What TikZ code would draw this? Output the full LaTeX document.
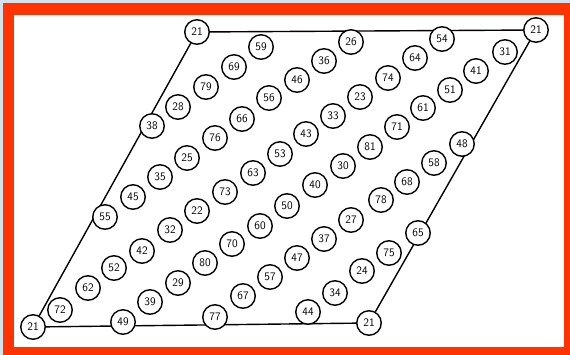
\documentclass[tikz,border=0pt]{standalone}
\usepackage{fontspec}
\pgfdeclarelayer{background}
\pgfsetlayers{background,main}
\definecolor{framered}{HTML}{FF3300}
\definecolor{framebg}{HTML}{CFE3EE}
\begin{document}
\begin{tikzpicture}[x=1pt,y=-1pt,
  num/.style={circle,draw=black,fill=white,line width=1.4pt,minimum size=24.5pt,inner sep=0pt,
    font=\sffamily\fontsize{11.5}{11.5}\selectfont},
  edge/.style={draw=black,line width=1.4pt}]
\useasboundingbox (0,0) rectangle (570,355);
\begin{pgfonlayer}{background}
\fill[framebg] (0,0) rectangle (570,355);
\fill[framered] (3,3) rectangle (570,355);
\fill[white] (14,15) rectangle (564,347);
\end{pgfonlayer}
% corners
\node[num] (tl) at (197,32) {21};
\node[num] (tr) at (536,30) {21};
\node[num] (bl) at (33,327) {21};
\node[num] (br) at (369,323) {21};
% row 31
\node[num] (n31) at (505,52) {31};
\node[num] (n41) at (476,71) {41};
\node[num] (n51) at (450,90) {51};
\node[num] (n61) at (423,108) {61};
\node[num] (n71) at (397,127) {71};
\node[num] (n81) at (370,147) {81};
\node[num] (n30) at (343,166) {30};
\node[num] (n40) at (315,185) {40};
\node[num] (n50) at (287,206) {50};
\node[num] (n60) at (260,226) {60};
\node[num] (n70) at (232,244) {70};
\node[num] (n80) at (205,263) {80};
\node[num] (n29) at (178,283) {29};
\node[num] (n39) at (150,302) {39};
\node[num] (n49) at (123,322) {49};
% row 54
\node[num] (n54) at (442,39) {54};
\node[num] (n64) at (415,58) {64};
\node[num] (n74) at (388,78) {74};
\node[num] (n23) at (360,97) {23};
\node[num] (n33) at (333,116) {33};
\node[num] (n43) at (306,134) {43};
\node[num] (n53) at (280,154) {53};
\node[num] (n63) at (253,173) {63};
\node[num] (n73) at (225,192) {73};
\node[num] (n22) at (197,211) {22};
\node[num] (n32) at (170,230) {32};
\node[num] (n42) at (142,251) {42};
\node[num] (n52) at (114,268) {52};
\node[num] (n62) at (88,288) {62};
\node[num] (n72) at (60,310) {72};
% row 48
\node[num] (n48) at (462,144) {48};
\node[num] (n58) at (434,163) {58};
\node[num] (n68) at (407,182) {68};
\node[num] (n78) at (381,200) {78};
\node[num] (n27) at (351,220) {27};
\node[num] (n37) at (324,239) {37};
\node[num] (n47) at (297,258) {47};
\node[num] (n57) at (270,277) {57};
\node[num] (n67) at (243,296) {67};
\node[num] (n77) at (215,317) {77};
% row 65
\node[num] (n65) at (418,233) {65};
\node[num] (n75) at (389,253) {75};
\node[num] (n24) at (362,271) {24};
\node[num] (n34) at (335,293) {34};
\node[num] (n44) at (308,312) {44};
% row 26
\node[num] (n26) at (351,42) {26};
\node[num] (n36) at (324,61) {36};
\node[num] (n46) at (297,80) {46};
\node[num] (n56) at (269,98) {56};
\node[num] (n66) at (242,119) {66};
\node[num] (n76) at (215,138) {76};
\node[num] (n25) at (187,158) {25};
\node[num] (n35) at (160,177) {35};
\node[num] (n45) at (133,197) {45};
\node[num] (n55) at (105,217) {55};
% row 59
\node[num] (n59) at (261,47) {59};
\node[num] (n69) at (234,67) {69};
\node[num] (n79) at (206,87) {79};
\node[num] (n28) at (178,107) {28};
\node[num] (n38) at (152,126) {38};
\begin{pgfonlayer}{background}
\draw[edge] (tl) -- (tr) -- (br) -- (bl) -- (tl);
\end{pgfonlayer}
\end{tikzpicture}
\end{document}
